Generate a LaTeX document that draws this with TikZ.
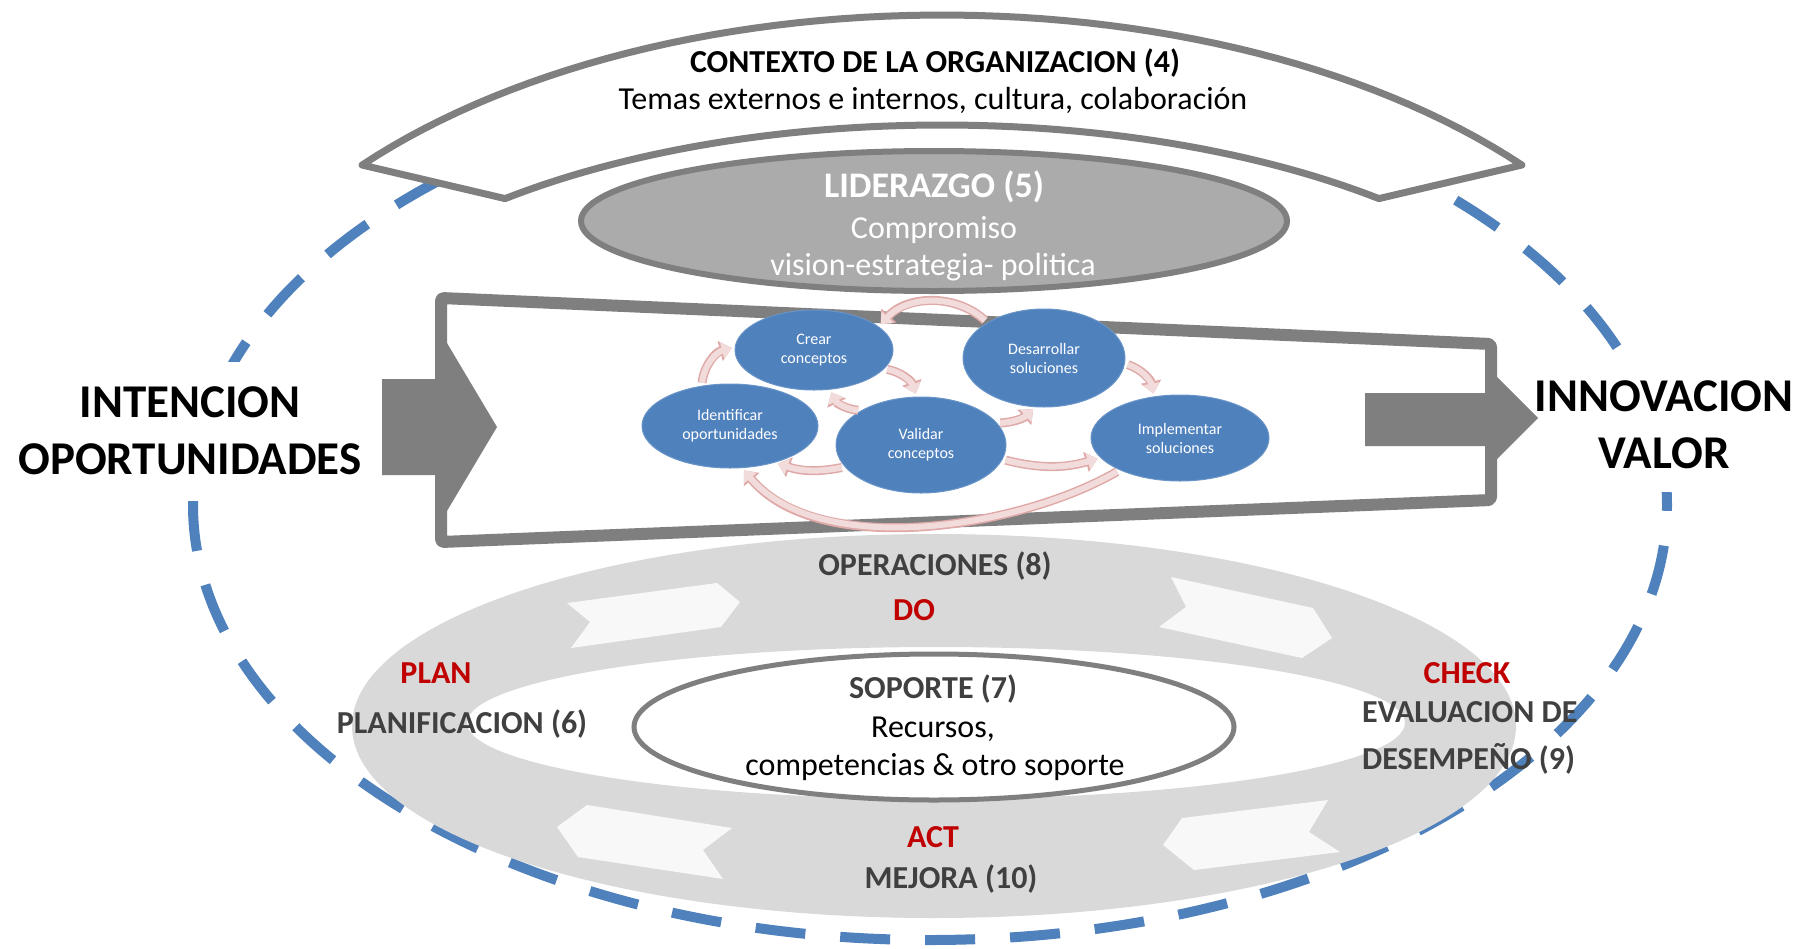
\documentclass[tikz,border=0pt]{standalone}
\usepackage{fontspec}
\setmainfont{Carlito}
\usetikzlibrary{shapes.geometric,arrows.meta}
\definecolor{dashblue}{HTML}{4F81BD}
\definecolor{boxgray}{HTML}{7F7F7F}
\definecolor{lidgray}{HTML}{ABABAB}
\definecolor{ringgray}{HTML}{D9D9D9}
\definecolor{chevron}{HTML}{F8F8F8}
\definecolor{procblue}{HTML}{4F81BD}
\definecolor{pinkin}{HTML}{F2DCDB}
\definecolor{pinkout}{HTML}{DFA9A8}
\definecolor{labelgray}{HTML}{404040}
\definecolor{pdcared}{HTML}{C00000}
\begin{document}
\begin{tikzpicture}[x=1pt,y=-1pt,
  bigtxt/.style={font=\fontsize{47}{56}\selectfont\bfseries, text=black, inner xsep=2pt, inner ysep=24pt, fill=white, anchor=base},
  lbl/.style={font=\fontsize{32}{38}\selectfont\bfseries, text=labelgray, inner sep=0pt, anchor=base},
  pdca/.style={font=\fontsize{32}{38}\selectfont\bfseries, text=pdcared, inner sep=0pt, anchor=base},
  txt/.style={font=\fontsize{32}{38}\selectfont, text=black, inner sep=0pt, anchor=base},
  proc/.style={ellipse, fill=procblue, draw=procblue!85!white, line width=1pt, inner sep=0pt, text=white, align=center, font=\fontsize{16}{19}\selectfont},
  flow/.style={line width=6pt, draw=pinkin, -{Triangle[length=10pt,width=16pt]}, shorten <=3pt, shorten >=3pt,
    preaction={draw=pinkout, line width=9pt, -{Triangle[length=12pt,width=20pt]}}},
  chev/.style={fill=chevron},
  outline/.style={draw=boxgray, line join=round},
]
\useasboundingbox (0,0) rectangle (1802,948);
\fill[white] (0,0) rectangle (1802,948);

% blue dashed ellipse
\draw[dashblue, line width=10pt, dash pattern=on 50pt off 35pt, dash phase=2pt] (930,505) ellipse [x radius=737pt, y radius=435pt];

% side texts (white boxes hide the dashes)
\node[bigtxt] (intencion) at (190,417) {INTENCION};
\node[bigtxt] (oport) at (190,474) {OPORTUNIDADES};
\node[bigtxt] (innov) at (1664,411) {INNOVACION};
\node[bigtxt] (valor) at (1664,468) {VALOR};

% top arc band
\draw[outline, line width=7pt, fill=white]
  plot[domain=140:40, samples=60] ({942+757*cos(\x)},{435-420*sin(\x)})
  -- plot[domain=49:131, samples=60] ({942+666*cos(\x)},{425-300*sin(\x)}) -- cycle;
\node[txt, font=\fontsize{32}{38}\selectfont\bfseries] (contexto) at (935,72) {CONTEXTO DE LA ORGANIZACION (4)};
\node[txt] (temas) at (933,109) {Temas externos e internos, cultura, colaboración};

% leadership ellipse
\node[ellipse, draw=boxgray, line width=6pt, fill=lidgray, minimum width=706pt, minimum height=140pt, inner sep=0pt] (lider) at (934,221) {};
\node[txt, text=white, font=\fontsize{36}{43}\selectfont\bfseries] (lidt) at (934,197) {LIDERAZGO (5)};
\node[txt, text=white] (compr) at (934,238) {Compromiso};
\node[txt, text=white] (vision) at (933,275) {vision-estrategia- politica};

% funnel box
\draw[outline, line width=12pt, fill=white, rounded corners=3pt] (441,298) -- (1491,344) -- (1491,500) -- (441,542) -- cycle;

% block arrows
\fill[boxgray] (382,379) -- (441,379) -- (441,333) -- (497,427) -- (441,521) -- (441,475) -- (382,475) -- cycle;
\fill[boxgray] (1365,393) -- (1491,393) -- (1491,371) -- (1538,418) -- (1491,465) -- (1491,446) -- (1365,446) -- cycle;

% PDCA ring
\fill[ringgray, even odd rule] (934,726) ellipse [x radius=582pt, y radius=192pt]
  (936,723) ellipse [x radius=469pt, y radius=76pt];
\fill[chev] (567,603) -- (717,583) -- (740,602) -- (721,627) -- (571,648) -- (590,622) -- cycle;
\fill[chev] (1171,577) -- (1313,608) -- (1332,638) -- (1302,658) -- (1159,627) -- (1186,607) -- cycle;
\fill[chev] (587,805) -- (732,828) -- (703,850) -- (723,879) -- (578,857) -- (557,827) -- cycle;
\fill[chev] (1328,800) -- (1309,832) -- (1340,852) -- (1194,870) -- (1163,845) -- (1182,818) -- cycle;
\node[ellipse, draw=boxgray, line width=5pt, fill=white, minimum width=600pt, minimum height=146pt, inner sep=0pt] (soporte) at (934,727) {};

% innovation process
\node[proc, minimum width=158pt, minimum height=80pt] (crear) at (814,350) {Crear\\conceptos};
\node[proc, minimum width=176pt, minimum height=84pt] (ident) at (730,426) {Identificar\\oportunidades};
\node[proc, minimum width=170pt, minimum height=96pt] (valid) at (921,445) {Validar\\conceptos};
\node[proc, minimum width=162pt, minimum height=98pt] (desar) at (1044,358) {Desarrollar\\soluciones};
\node[proc, minimum width=178pt, minimum height=86pt] (implem) at (1180,438) {Implementar\\soluciones};

\draw[flow] (ident.125) to[bend left=35] (crear.178);
\draw[flow] (crear.-15) to[bend left=30] (valid.95);
\draw[flow] (valid.150) to[bend left=30] (crear.-68);
\draw[flow] (desar.148) to[bend right=45] (crear.20);
\draw[flow] (valid.16) to[bend right=20] (desar.-100);
\draw[flow] (desar.-4) to[bend left=30] (implem.122);
\draw[flow] (valid.-10) to[bend right=15] (implem.-166);
\draw[flow] (valid.-164) to[bend left=15] (ident.-39);
\draw[flow] (implem.-152) to[out=210,in=-50,looseness=0.8] (ident.-74);

% ring labels
\node[lbl] (oper) at (935,575) {OPERACIONES (8)};
\node[pdca] (do) at (914,620) {DO};
\node[pdca] (plan) at (436,683) {PLAN};
\node[lbl] (planif) at (462,733) {PLANIFICACION (6)};
\node[pdca] (check) at (1467,683) {CHECK};
\node[lbl, anchor=base west] (eval1) at (1362,722) {EVALUACION DE};
\node[lbl, anchor=base west] (eval2) at (1362,769) {DESEMPEÑO (9)};
\node[pdca] (act) at (933,847) {ACT};
\node[lbl] (mejora) at (951,888) {MEJORA (10)};
\node[lbl] (soptit) at (933,698) {SOPORTE (7)};
\node[txt] (recursos) at (933,737) {Recursos,};
\node[txt] (compet) at (935,775) {competencias \& otro soporte};
\end{tikzpicture}
\end{document}
